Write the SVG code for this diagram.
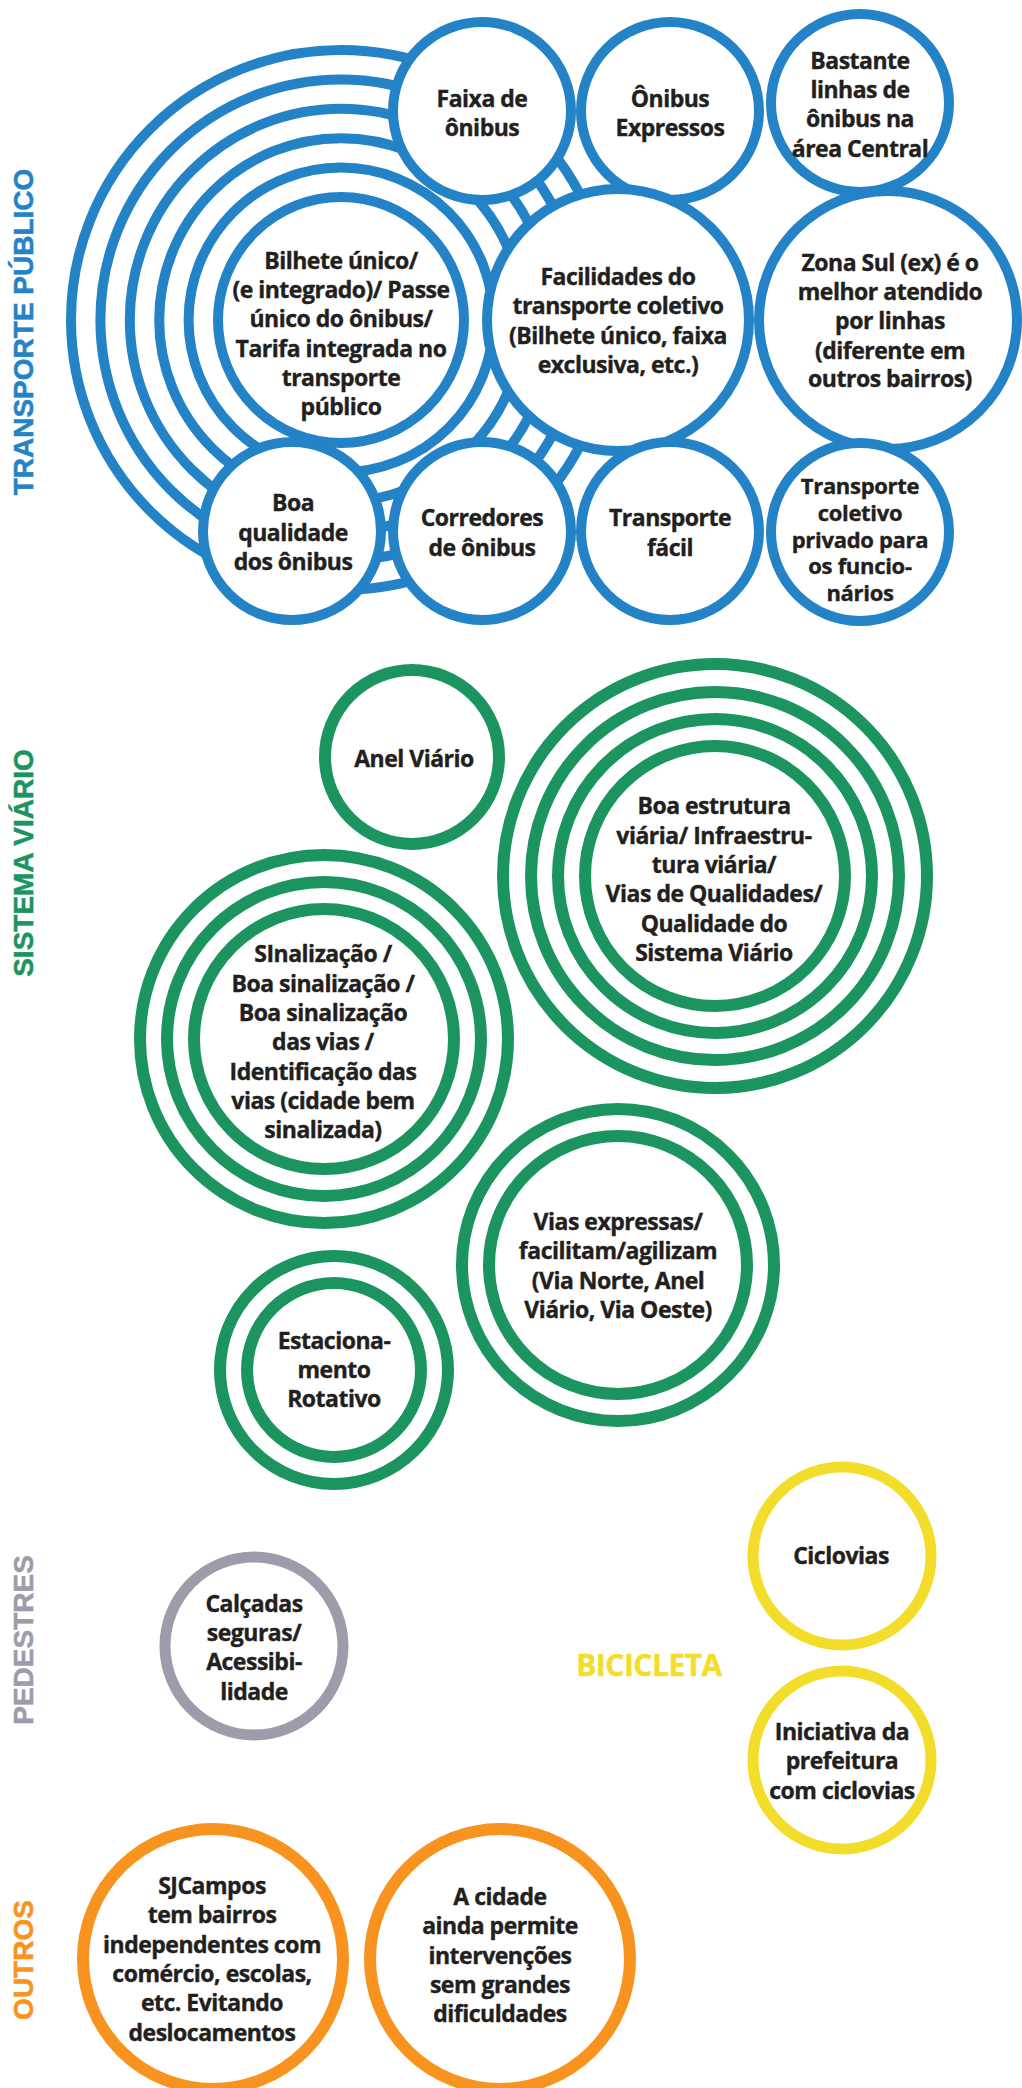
<svg xmlns="http://www.w3.org/2000/svg" width="1022" height="2088" viewBox="0 0 1022 2088">
<style>
.t{font-family:"Open Sans","Liberation Sans",sans-serif;font-weight:700;font-size:23px;fill:#231f20;stroke:#231f20;stroke-width:0.4px;text-anchor:middle;letter-spacing:-0.5px}
.s{font-size:22px;letter-spacing:-0.3px}
.lbl{font-family:"Liberation Sans",Arial,sans-serif;font-weight:700;font-size:28px;text-anchor:middle;stroke-width:0.5px}
.b{fill:#fff;stroke:#2383c6;stroke-width:10}
.br{fill:none;stroke:#2383c6;stroke-width:10}
.g{fill:#fff;stroke:#1b9460;stroke-width:12}
.y{fill:#fff;stroke:#f2dd2b;stroke-width:11}
.p{fill:#fff;stroke:#9c9caa;stroke-width:11}
.o{fill:#fff;stroke:#f7931e;stroke-width:12}
</style>
<rect width="1022" height="2088" fill="#fff"/>

<g id="labels">
<text class="lbl" fill="#2383c6" stroke="#2383c6" transform="translate(33,332) rotate(-90)">TRANSPORTE PÚBLICO</text>
<text class="lbl" fill="#1b9460" stroke="#1b9460" transform="translate(33,863) rotate(-90)">SISTEMA VIÁRIO</text>
<text class="lbl" fill="#9c9caa" stroke="#9c9caa" transform="translate(33,1640) rotate(-90)">PEDESTRES</text>
<text class="lbl" fill="#f7931e" stroke="#f7931e" transform="translate(33,1960) rotate(-90)">OUTROS</text>
<text class="t" x="649" y="1676" style="fill:#f2dd2b;stroke:#f2dd2b;font-size:30px">BICICLETA</text>
</g>

<!-- TRANSPORTE PÚBLICO -->
<g id="bilhete-unico">
<circle class="br" cx="341" cy="320" r="270"/>
<circle class="br" cx="341" cy="320" r="240.6"/>
<circle class="br" cx="341" cy="320" r="211.2"/>
<circle class="br" cx="341" cy="320" r="181.8"/>
<circle class="br" cx="341" cy="320" r="152.4"/>
<circle class="b" cx="341" cy="320" r="123"/>
<text class="t"><tspan x="341" y="269">Bilhete único/</tspan><tspan x="341" y="298">(e integrado)/ Passe</tspan><tspan x="341" y="327">único do ônibus/</tspan><tspan x="341" y="357">Tarifa integrada no</tspan><tspan x="341" y="386">transporte</tspan><tspan x="341" y="415">público</tspan></text>
</g>
<g id="faixa-de-onibus">
<circle class="b" cx="482" cy="111" r="89"/>
<text class="t"><tspan x="482" y="107">Faixa de</tspan><tspan x="482" y="136">ônibus</tspan></text>
</g>
<g id="onibus-expressos">
<circle class="b" cx="670" cy="111" r="89"/>
<text class="t"><tspan x="670" y="107">Ônibus</tspan><tspan x="670" y="136">Expressos</tspan></text>
</g>
<g id="bastante-linhas">
<circle class="b" cx="860" cy="103" r="89"/>
<text class="t"><tspan x="860" y="69">Bastante</tspan><tspan x="860" y="98">linhas de</tspan><tspan x="860" y="127">ônibus na</tspan><tspan x="860" y="157">área Central</tspan></text>
</g>
<g id="facilidades">
<circle class="b" cx="618" cy="320" r="131"/>
<text class="t"><tspan x="618" y="285">Facilidades do</tspan><tspan x="618" y="314">transporte coletivo</tspan><tspan x="618" y="344">(Bilhete único, faixa</tspan><tspan x="618" y="373">exclusiva, etc.)</tspan></text>
</g>
<g id="zona-sul">
<circle class="b" cx="888" cy="320" r="129"/>
<text class="t"><tspan x="890" y="271">Zona Sul (ex) é o</tspan><tspan x="890" y="300">melhor atendido</tspan><tspan x="890" y="329">por linhas</tspan><tspan x="890" y="359">(diferente em</tspan><tspan x="890" y="387">outros bairros)</tspan></text>
</g>
<g id="boa-qualidade">
<circle class="b" cx="292" cy="531" r="89"/>
<text class="t"><tspan x="293" y="511">Boa</tspan><tspan x="293" y="541">qualidade</tspan><tspan x="293" y="570">dos ônibus</tspan></text>
</g>
<g id="corredores">
<circle class="b" cx="482" cy="531" r="89"/>
<text class="t"><tspan x="482" y="526">Corredores</tspan><tspan x="482" y="556">de ônibus</tspan></text>
</g>
<g id="transporte-facil">
<circle class="b" cx="670" cy="531" r="89"/>
<text class="t"><tspan x="670" y="526">Transporte</tspan><tspan x="670" y="556">fácil</tspan></text>
</g>
<g id="transporte-privado">
<circle class="b" cx="860" cy="532" r="89"/>
<text class="t s"><tspan x="860" y="494">Transporte</tspan><tspan x="860" y="521">coletivo</tspan><tspan x="860" y="548">privado para</tspan><tspan x="860" y="574">os funcio-</tspan><tspan x="860" y="601">nários</tspan></text>
</g>

<!-- SISTEMA VIÁRIO -->
<g id="anel-viario">
<circle class="g" cx="412" cy="757" r="87"/>
<text class="t" x="414" y="767">Anel Viário</text>
</g>
<g id="boa-estrutura">
<circle class="g" cx="715" cy="876" r="212"/>
<circle class="g" cx="715" cy="876" r="184"/>
<circle class="g" cx="715" cy="876" r="157"/>
<circle class="g" cx="715" cy="876" r="130"/>
<text class="t"><tspan x="714" y="814">Boa estrutura</tspan><tspan x="714" y="844">viária/ Infraestru-</tspan><tspan x="714" y="873">tura viária/</tspan><tspan x="714" y="902">Vias de Qualidades/</tspan><tspan x="714" y="932">Qualidade do</tspan><tspan x="714" y="961">Sistema Viário</tspan></text>
</g>
<g id="sinalizacao">
<circle class="g" cx="324" cy="1039" r="184"/>
<circle class="g" cx="324" cy="1039" r="157"/>
<circle class="g" cx="324" cy="1039" r="130"/>
<text class="t"><tspan x="323" y="962">SInalização /</tspan><tspan x="323" y="992">Boa sinalização /</tspan><tspan x="323" y="1021">Boa sinalização</tspan><tspan x="323" y="1050">das vias /</tspan><tspan x="323" y="1080">Identificação das</tspan><tspan x="323" y="1109">vias (cidade bem</tspan><tspan x="323" y="1138">sinalizada)</tspan></text>
</g>
<g id="vias-expressas">
<circle class="g" cx="618" cy="1265" r="156"/>
<circle class="g" cx="618" cy="1265" r="129"/>
<text class="t"><tspan x="618" y="1230">Vias expressas/</tspan><tspan x="618" y="1259">facilitam/agilizam</tspan><tspan x="618" y="1289">(Via Norte, Anel</tspan><tspan x="618" y="1318">Viário, Via Oeste)</tspan></text>
</g>
<g id="estacionamento">
<circle class="g" cx="334" cy="1370" r="114"/>
<circle class="g" cx="334" cy="1370" r="87"/>
<text class="t"><tspan x="334" y="1349">Estaciona-</tspan><tspan x="334" y="1378">mento</tspan><tspan x="334" y="1407">Rotativo</tspan></text>
</g>

<!-- BICICLETA -->
<g id="ciclovias">
<circle class="y" cx="842" cy="1556" r="89"/>
<text class="t" x="841" y="1564">Ciclovias</text>
</g>
<g id="iniciativa">
<circle class="y" cx="842" cy="1760" r="89"/>
<text class="t"><tspan x="842" y="1740">Iniciativa da</tspan><tspan x="842" y="1769">prefeitura</tspan><tspan x="842" y="1799">com ciclovias</tspan></text>
</g>

<!-- PEDESTRES -->
<g id="calcadas">
<circle class="p" cx="254" cy="1646" r="89"/>
<text class="t"><tspan x="254" y="1612">Calçadas</tspan><tspan x="254" y="1641">seguras/</tspan><tspan x="254" y="1670">Acessibi-</tspan><tspan x="254" y="1700">lidade</tspan></text>
</g>

<!-- OUTROS -->
<g id="sjcampos">
<circle class="o" cx="213" cy="1959" r="130"/>
<text class="t"><tspan x="212" y="1894">SJCampos</tspan><tspan x="212" y="1923">tem bairros</tspan><tspan x="212" y="1953">independentes com</tspan><tspan x="212" y="1982">comércio, escolas,</tspan><tspan x="212" y="2011">etc. Evitando</tspan><tspan x="212" y="2041">deslocamentos</tspan></text>
</g>
<g id="a-cidade">
<circle class="o" cx="500" cy="1959" r="130"/>
<text class="t"><tspan x="500" y="1905">A cidade</tspan><tspan x="500" y="1934">ainda permite</tspan><tspan x="500" y="1964">intervenções</tspan><tspan x="500" y="1993">sem grandes</tspan><tspan x="500" y="2022">dificuldades</tspan></text>
</g>
</svg>
